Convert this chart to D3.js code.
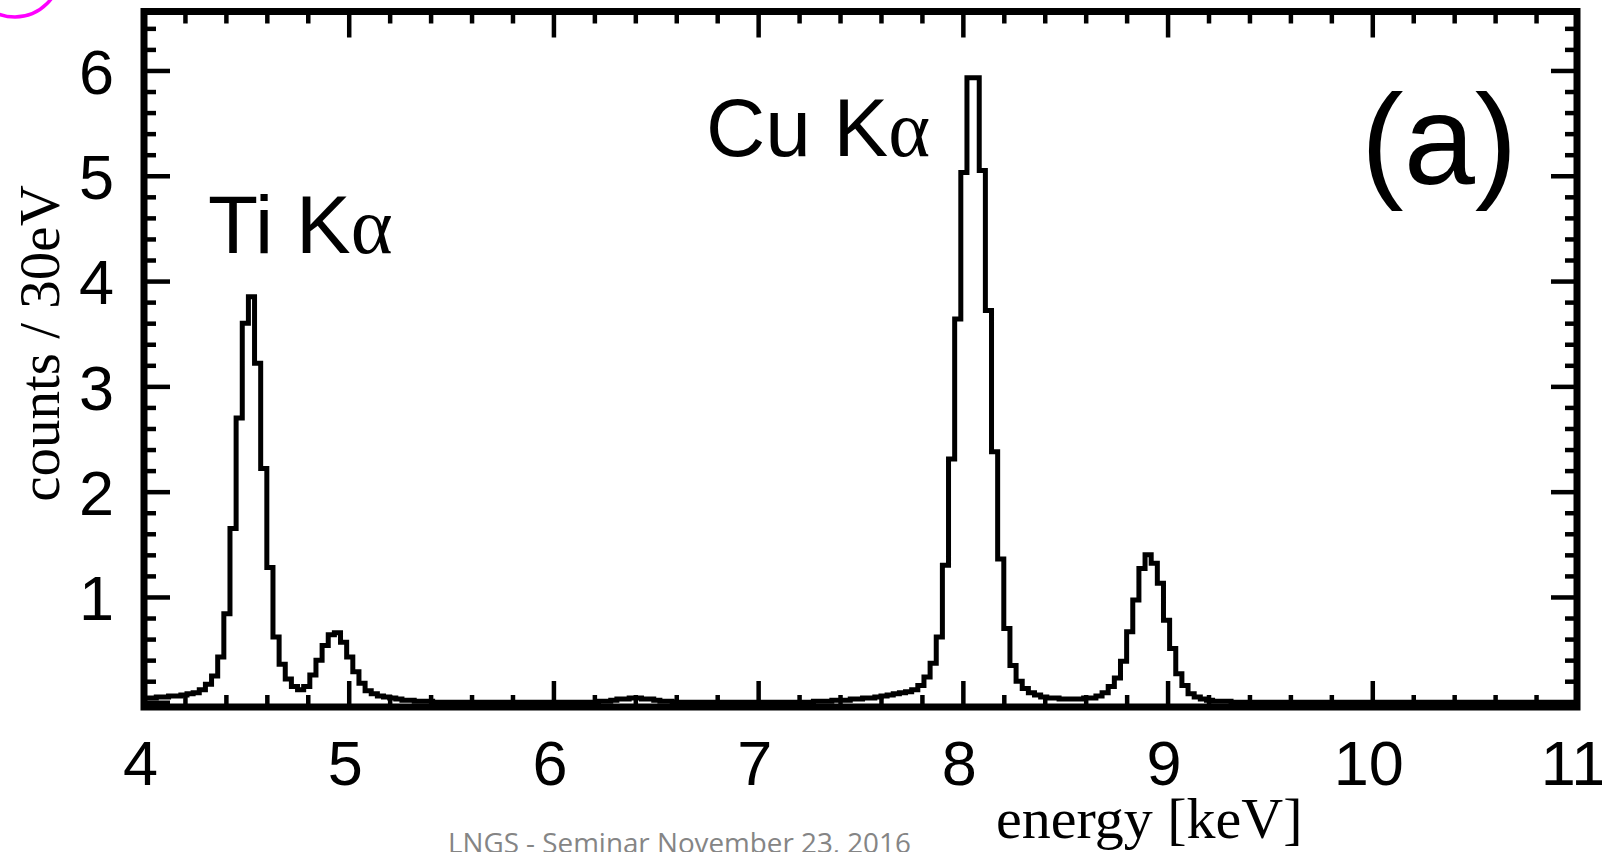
<!DOCTYPE html>
<html><head><meta charset="utf-8">
<script src="https://cdn.jsdelivr.net/npm/d3@7"></script>
<style>html,body{margin:0;padding:0;background:#fff;overflow:hidden}</style>
</head><body>
<svg id="c" width="1602" height="852"></svg>
<script>
// ---- data ----
const binStart = 4.0;      // keV
const binWidth = 0.03;     // keV (30 eV bins)
const counts = [
  0.04,0.04,0.05,0.05,0.06,0.06,0.07,0.08,0.09,0.12,
  0.17,0.25,0.43,0.84,1.65,2.70,3.60,3.85,3.22,2.22,
  1.28,0.62,0.36,0.22,0.15,0.12,0.15,0.26,0.40,0.54,
  0.64,0.66,0.57,0.43,0.29,0.18,0.11,0.08,0.06,0.05,
  0.04,0.03,0.02,0.02,0.01,0.01,0.01,0.00,0.00,0.00,
  0.00,0.00,0.00,0.00,0.00,0.00,0.00,0.00,0.00,0.00,
  0.00,0.00,0.00,0.00,0.00,0.00,0.00,0.00,0.00,0.00,
  0.00,0.00,0.00,0.00,0.01,0.01,0.02,0.03,0.03,0.04,
  0.04,0.03,0.03,0.02,0.01,0.01,0.00,0.00,0.00,0.00,
  0.00,0.00,0.00,0.00,0.00,0.00,0.00,0.00,0.00,0.00,
  0.00,0.00,0.00,0.00,0.00,0.00,0.00,0.00,0.00,0.01,
  0.01,0.01,0.02,0.02,0.02,0.03,0.03,0.04,0.04,0.05,
  0.06,0.07,0.08,0.09,0.10,0.12,0.16,0.24,0.37,0.62,
  1.30,2.31,3.64,5.03,5.93,5.93,5.05,3.72,2.38,1.36,
  0.70,0.35,0.20,0.13,0.09,0.07,0.05,0.04,0.04,0.03,
  0.03,0.03,0.03,0.04,0.04,0.06,0.09,0.15,0.23,0.39,
  0.67,0.97,1.27,1.40,1.32,1.13,0.78,0.51,0.27,0.16,
  0.08,0.05,0.03,0.02,0.01,0.01,0.01,0.00,0.00,0.00,
  0.00,0.00,0.00,0.00,0.00,0.00,0.00,0.00,0.00,0.00,
  0.00,0.00,0.00,0.00,0.00,0.00,0.00,0.00,0.00,0.00,
  0.00,0.00,0.00,0.00,0.00,0.00,0.00,0.00,0.00,0.00,
  0.00,0.00,0.00,0.00,0.00,0.00,0.00,0.00,0.00,0.00,
  0.00,0.00,0.00,0.00,0.00,0.00,0.00,0.00,0.00,0.00,
  0.00,0.00,0.00,0.00
];
const xMajor = [4,5,6,7,8,9,10,11];
const xTickLabels = ["4","5","6","7","8","9","10","11"];
const yMajor = [0,1,2,3,4,5,6];
const yTickLabels = ["","1","2","3","4","5","6"];
const xDomain = [4, 11];
const yDomain = [-0.045, 6.56];
const peakNames = ["Ti K", "Cu K"];
const greek = "α";
const panelTag = "(a)";
const xTitle = "energy [keV]";
const yTitle = "counts / 30eV";
const footer = "LNGS - Seminar November 23, 2016";

// ---- drawing ----
(function(){
const svg = d3.select("#c");
const pL = 144, pR = 1577, pT = 11.5, pB = 707;
const x = d3.scaleLinear().domain(xDomain).range([pL, pR]);
const y = d3.scaleLinear().domain(yDomain).range([pB, pT]);

const xMinor = d3.range(4, 11.0001, 0.2).map(v => +v.toFixed(2)).filter(v => Math.abs(v - Math.round(v)) > 1e-6);
const yMinor = d3.range(0, 6.5, 0.2).map(v => +v.toFixed(2)).filter(v => Math.abs(v - Math.round(v)) > 1e-6);

svg.append("defs").append("clipPath").attr("id","plotclip")
  .append("rect").attr("x",pL).attr("y",pT).attr("width",pR-pL).attr("height",pB-pT);

const sans = "'Liberation Sans', Arial, sans-serif";
const serif = "'Liberation Serif', 'Times New Roman', serif";

function styleAxis(g, fs){
  g.select(".domain").remove();
  g.selectAll(".tick line").attr("stroke","#000").attr("stroke-width",4.5);
  g.attr("font-family", sans).attr("font-size", fs || 63);
  g.selectAll("text").attr("fill","#000");
}

// bottom
svg.append("g").attr("transform",`translate(0,${pB})`)
  .call(d3.axisBottom(x).tickValues(xMajor).tickSize(-26).tickPadding(33).tickFormat((d,i)=>xTickLabels[i]))
  .call(g=>styleAxis(g)).call(g=>g.selectAll("text").attr("x",-4));
svg.append("g").attr("transform",`translate(0,${pB})`)
  .call(d3.axisBottom(x).tickValues(xMinor).tickSize(-12).tickFormat(""))
  .call(g=>styleAxis(g));
// top
svg.append("g").attr("transform",`translate(0,${pT})`)
  .call(d3.axisTop(x).tickValues(xMajor).tickSize(-26).tickFormat(""))
  .call(g=>styleAxis(g));
svg.append("g").attr("transform",`translate(0,${pT})`)
  .call(d3.axisTop(x).tickValues(xMinor).tickSize(-12).tickFormat(""))
  .call(g=>styleAxis(g));
// left
svg.append("g").attr("transform",`translate(${pL},0)`)
  .call(d3.axisLeft(y).tickValues(yMajor).tickSize(-26).tickPadding(30).tickFormat((d,i)=>yTickLabels[i]))
  .call(g=>styleAxis(g)).call(g=>g.selectAll("text").attr("dy","0.36em"));
svg.append("g").attr("transform",`translate(${pL},0)`)
  .call(d3.axisLeft(y).tickValues(yMinor).tickSize(-12).tickFormat(""))
  .call(g=>styleAxis(g));
// right
svg.append("g").attr("transform",`translate(${pR},0)`)
  .call(d3.axisRight(y).tickValues(yMajor).tickSize(-26).tickFormat(""))
  .call(g=>styleAxis(g));
svg.append("g").attr("transform",`translate(${pR},0)`)
  .call(d3.axisRight(y).tickValues(yMinor).tickSize(-12).tickFormat(""))
  .call(g=>styleAxis(g));

// histogram
const pts = counts.map((v,i)=>[binStart + i*binWidth, v]);
pts.push([binStart + counts.length*binWidth, counts[counts.length-1]]);
const line = d3.line().x(d=>x(d[0])).y(d=>y(d[1])).curve(d3.curveStepAfter);
svg.append("path").datum(pts).attr("d",line)
  .attr("fill","none").attr("stroke","#000").attr("stroke-width",5)
  .attr("stroke-linejoin","miter").attr("clip-path","url(#plotclip)");

// frame
svg.append("rect").attr("x",pL).attr("y",pT).attr("width",pR-pL).attr("height",pB-pT)
  .attr("fill","none").attr("stroke","#000").attr("stroke-width",7);

// peak labels
const labelPos = [[208,253],[706,156]];
peakNames.forEach((n,i)=>{
  const t = svg.append("text").attr("x",labelPos[i][0]).attr("y",labelPos[i][1])
    .attr("font-family",sans).attr("font-size",82).attr("fill","#000");
  t.append("tspan").text(n);
  t.append("tspan").attr("font-family",serif).attr("font-size",80).text(greek);
});
svg.append("text").attr("x",1361).attr("y",184).attr("font-family",sans).attr("font-size",128)
  .attr("fill","#000").text(panelTag);

// axis titles
svg.append("text").attr("transform","translate(59,343.5) rotate(-90)").attr("text-anchor","middle")
  .attr("font-family",serif).attr("font-size",57).attr("fill","#000").text(yTitle);
svg.append("text").attr("x",996).attr("y",838).attr("font-family",serif).attr("font-size",58)
  .attr("fill","#000").text(xTitle);

// footer
svg.append("text").attr("x",448).attr("y",853).attr("font-family","'Open Sans', sans-serif")
  .attr("font-size",27.8).attr("fill","#858585").text(footer);

// magenta arc at top-left corner
svg.append("circle").attr("cx",15).attr("cy",-28).attr("r",45)
  .attr("fill","none").attr("stroke","#ff00ff").attr("stroke-width",3.5);
})();
</script>
</body></html>
